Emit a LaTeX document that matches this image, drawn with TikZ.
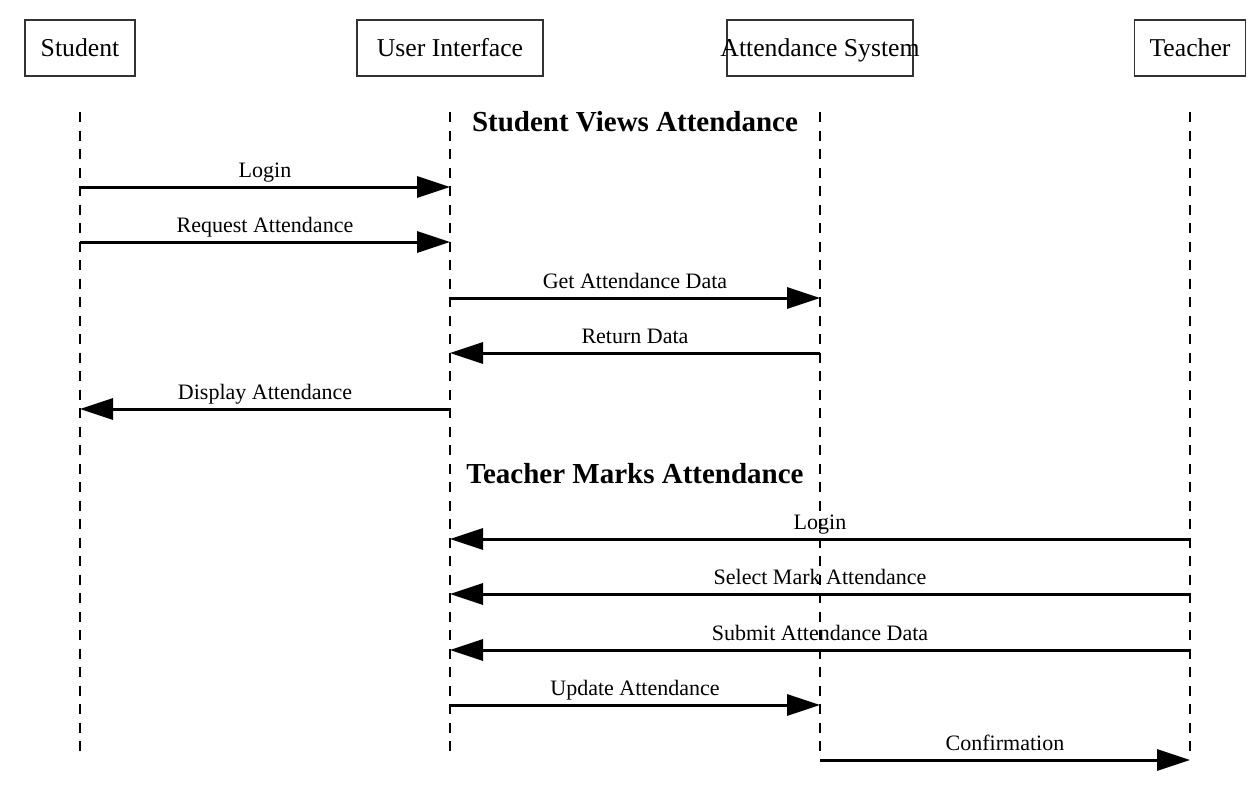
\documentclass[tikz,border=0pt]{standalone}
\usepackage{fontspec}
\setmainfont{Liberation Serif}
\usepackage{tikz}
\usetikzlibrary{arrows.meta}

\begin{document}
\begin{tikzpicture}[x=1pt, y=-1pt, thick]
        \tikzstyle{every node}=[font=\fontsize{22}{26}\selectfont]
        \tikzstyle{actor}=[draw=black!80, line width=1.5pt, minimum height=56pt, inner sep=0pt, text height=17pt, text depth=0pt, font=\fontsize{25.7}{30}\selectfont]
        \tikzstyle{life}=[dash pattern=on 10pt off 8.5pt, line width=1.5pt]
        \tikzstyle{msg}=[line width=3pt, -{Triangle[length=33pt,width=21pt]}]
        \tikzstyle{lbl}=[midway, anchor=base, yshift=9.5pt, inner sep=0pt]
        \tikzstyle{title}=[anchor=base, inner sep=0pt, font=\fontsize{29}{34}\selectfont\bfseries]
        \useasboundingbox (0,0) rectangle (1254,803);
        \node [actor, minimum width=110pt] (s) at (80, 48) {Student};
        \node [actor, minimum width=186pt] (u) at (450, 48) {User Interface};
        \node [actor, minimum width=186pt] (a) at (820, 48) {\makebox[0pt]{Attendance System}};
        \node [actor, minimum width=111pt] (t) at (1190, 48) {Teacher};
        \foreach \n/\x in {s/80, u/450, a/820, t/1190} {
          \coordinate (\n top) at (\x, 112);
          \coordinate (\n end) at (\x, 752);
          \draw[life] (\n top) -- (\n end);
          \foreach \y in {187, 242, 298, 353, 409, 539, 594, 650, 705, 760}
            \coordinate (\n\y) at (\x, \y);
        }
        \node [title] (h1) at (635, 131) {Student Views Attendance};
        \node [title] (h2) at (635, 483) {Teacher Marks Attendance};
        \draw[msg] (s187) -- node[lbl] {Login} (u187);
        \draw[msg] (s242) -- node[lbl] {Request Attendance} (u242);
        \draw[msg] (u298) -- node[lbl] {Get Attendance Data} (a298);
        \draw[msg] (a353) -- node[lbl] {Return Data} (u353);
        \draw[msg] (u409) -- node[lbl] {Display Attendance} (s409);
        \draw[msg] (t539) -- node[lbl] {Login} (u539);
        \draw[msg] (t594) -- node[lbl] {Select Mark Attendance} (u594);
        \draw[msg] (t650) -- node[lbl] {Submit Attendance Data} (u650);
        \draw[msg] (u705) -- node[lbl] {Update Attendance} (a705);
        \draw[msg] (a760) -- node[lbl] {Confirmation} (t760);
      \end{tikzpicture}
\end{document}
